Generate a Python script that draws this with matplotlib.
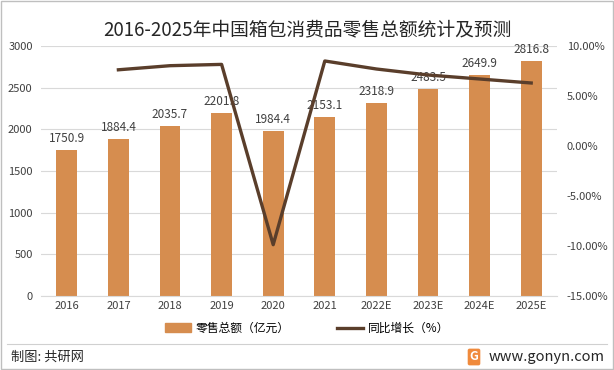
import numpy as np
import matplotlib.pyplot as plt
from matplotlib.patches import Rectangle, Patch
from matplotlib.lines import Line2D

plt.rcParams['font.family'] = ['Noto Sans CJK SC', 'DejaVu Sans']

years = ['2016', '2017', '2018', '2019', '2020', '2021', '2022E', '2023E', '2024E', '2025E']
sales = [1750.9, 1884.4, 2035.7, 2201.8, 1984.4, 2153.1, 2318.9, 2483.5, 2649.9, 2816.8]
growth = [7.62, 8.03, 8.16, -9.87, 8.50, 7.70, 7.10, 6.70, 6.30]  # 2017 onward

bar_color = '#D68D4F'
line_color = '#5A3E2B'

fig = plt.figure(figsize=(6.14, 3.70), dpi=100)
ax = fig.add_axes([41/614, 0.2, (557-41)/614, 0.8757-0.2])
x = np.arange(len(years))
ax.bar(x, sales, width=0.4, color=bar_color, zorder=2)
for xi, v in zip(x, sales):
    ax.text(xi, v + 60, f'{v:.1f}', ha='center', va='bottom', fontsize=8.5, color='#404040', zorder=3)
ax.set_xlim(-0.5, len(years) - 0.5)
ax.set_ylim(0, 3000)
ax.set_yticks(range(0, 3001, 500))
ax.set_xticks(x)
ax.set_xticklabels(years)
ax.grid(axis='y', color='#D9D9D9', lw=0.8, zorder=0)
for s in ax.spines.values():
    s.set_visible(False)
ax.spines['bottom'].set_visible(True)
ax.spines['bottom'].set_color('#D9D9D9')
ax.tick_params(length=0, labelsize=8, colors='#404040')
ax.tick_params(axis='y', pad=6)

ax2 = ax.twinx()
ax2.plot(x[1:], growth, color=line_color, lw=2.4, zorder=5)
ax2.set_ylim(-15, 10)
ax2.set_yticks(range(-15, 11, 5))
ax2.set_yticklabels([f'{t:.2f}%' for t in range(-15, 11, 5)])
for s in ax2.spines.values():
    s.set_visible(False)
ax2.tick_params(length=0, labelsize=8, colors='#404040', pad=7)

fig.text(0.5, 0.918, '2016-2025年中国箱包消费品零售总额统计及预测', ha='center', va='center',
         fontsize=13.5, color='#262626')

handles = [Patch(color=bar_color), Line2D([], [], color=line_color, lw=2.4)]
fig.legend(handles, ['零售总额（亿元）', '同比增长（%）'], loc='center', bbox_to_anchor=(0.5, 0.113),
           ncol=2, frameon=False, fontsize=8.5, handlelength=2.2, columnspacing=4, handletextpad=0.4)

fig.add_artist(Line2D([0.012, 0.988], [1 - 344/370] * 2, color='#D0D0D0', lw=0.8))
fig.add_artist(Rectangle((0.002, 0.003), 0.996, 0.994, fill=False, ec='#BFBFBF', lw=1))
fig.text(0.018, 1 - 357/370, '制图: 共研网', ha='left', va='center', fontsize=9.5, color='#262626')
fig.text(0.985, 1 - 357/370, 'www.gonyn.com', ha='right', va='center', fontsize=10.5, color='#262626')
fig.text(0.772, 1 - 357/370, 'G', ha='center', va='center', fontsize=9, color='white', weight='bold',
         bbox=dict(boxstyle='round,pad=0.15', fc='#F08A3C', ec='none'))

fig.savefig('out.png', dpi=100)
